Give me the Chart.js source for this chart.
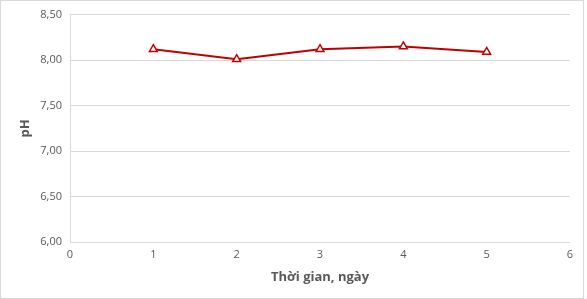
<!DOCTYPE html>
<html>
<head>
<meta charset="utf-8">
<script src="https://cdn.jsdelivr.net/npm/chart.js@4/dist/chart.umd.min.js"></script>
<style>
  html, body { margin: 0; padding: 0; background: #fff; }
  .chart-container { position: relative; width: 587px; height: 299px; }
</style>
</head>
<body>
<div class="chart-container">
  <canvas id="myChart"></canvas>
</div>
<script>
const days = [1, 2, 3, 4, 5];
const phValues = [8.12, 8.01, 8.12, 8.15, 8.09];
const xTitle = 'Thời gian, ngày';
const yTitle = 'pH';

const frame = {
  id: 'frame',
  beforeDraw(chart) {
    const c = chart.ctx;
    c.save();
    c.fillStyle = '#fff';
    c.fillRect(0, 0, chart.width, chart.height);
    c.strokeStyle = '#d9d9d9';
    c.lineWidth = 1;
    c.strokeRect(0.5, 0.5, chart.width - 4, chart.height - 1);
    c.restore();
  }
};

const ch = document.getElementById('myChart');
const phChart = new Chart(ch, {
  type: 'line',
  data: {
    datasets: [{
      label: 'pH',
      data: days.map((d, i) => ({x: d, y: phValues[i]})),
      borderColor: '#c00000',
      backgroundColor: '#ffffff',
      borderWidth: 2,
      pointStyle: 'triangle',
      pointRadius: 4.5,
      pointBorderWidth: 1.5,
      pointBorderColor: '#c00000',
      pointBackgroundColor: '#ffffff',
      tension: 0
    }]
  },
  options: {
    responsive: true,
    maintainAspectRatio: false,
    animation: false,
    layout: {padding: {left: 17, right: 17, top: 8, bottom: 14}},
    plugins: {legend: {display: false}, tooltip: {enabled: false}},
    scales: {
      x: {
        type: 'linear',
        min: 0, max: 6,
        ticks: {stepSize: 1, color: '#595959', font: {family: 'Open Sans', size: 11}, padding: 6},
        grid: {display: false, drawTicks: false},
        border: {display: false},
        title: {display: true, text: xTitle, color: '#595959', font: {family: 'Open Sans', size: 13, weight: 'bold'}, padding: {top: 0, bottom: 0}},
        afterFit: (s) => { s.height = 299 - 242 - 14; }
      },
      y: {
        min: 6, max: 8.5,
        ticks: {
          stepSize: 0.5, color: '#595959', font: {family: 'Open Sans', size: 11}, padding: 8,
          callback: (v) => v.toFixed(2).replace('.', ',')
        },
        grid: {color: '#d9d9d9', drawTicks: false},
        border: {display: true, color: '#d9d9d9'},
        title: {display: true, text: yTitle, color: '#595959', font: {family: 'Open Sans', size: 13, weight: 'bold'}, padding: {top: 0, bottom: 0}},
        afterFit: (s) => { s.width = 70 - 17; }
      }
    }
  },
  plugins: [frame]
});
</script>
</body>
</html>
